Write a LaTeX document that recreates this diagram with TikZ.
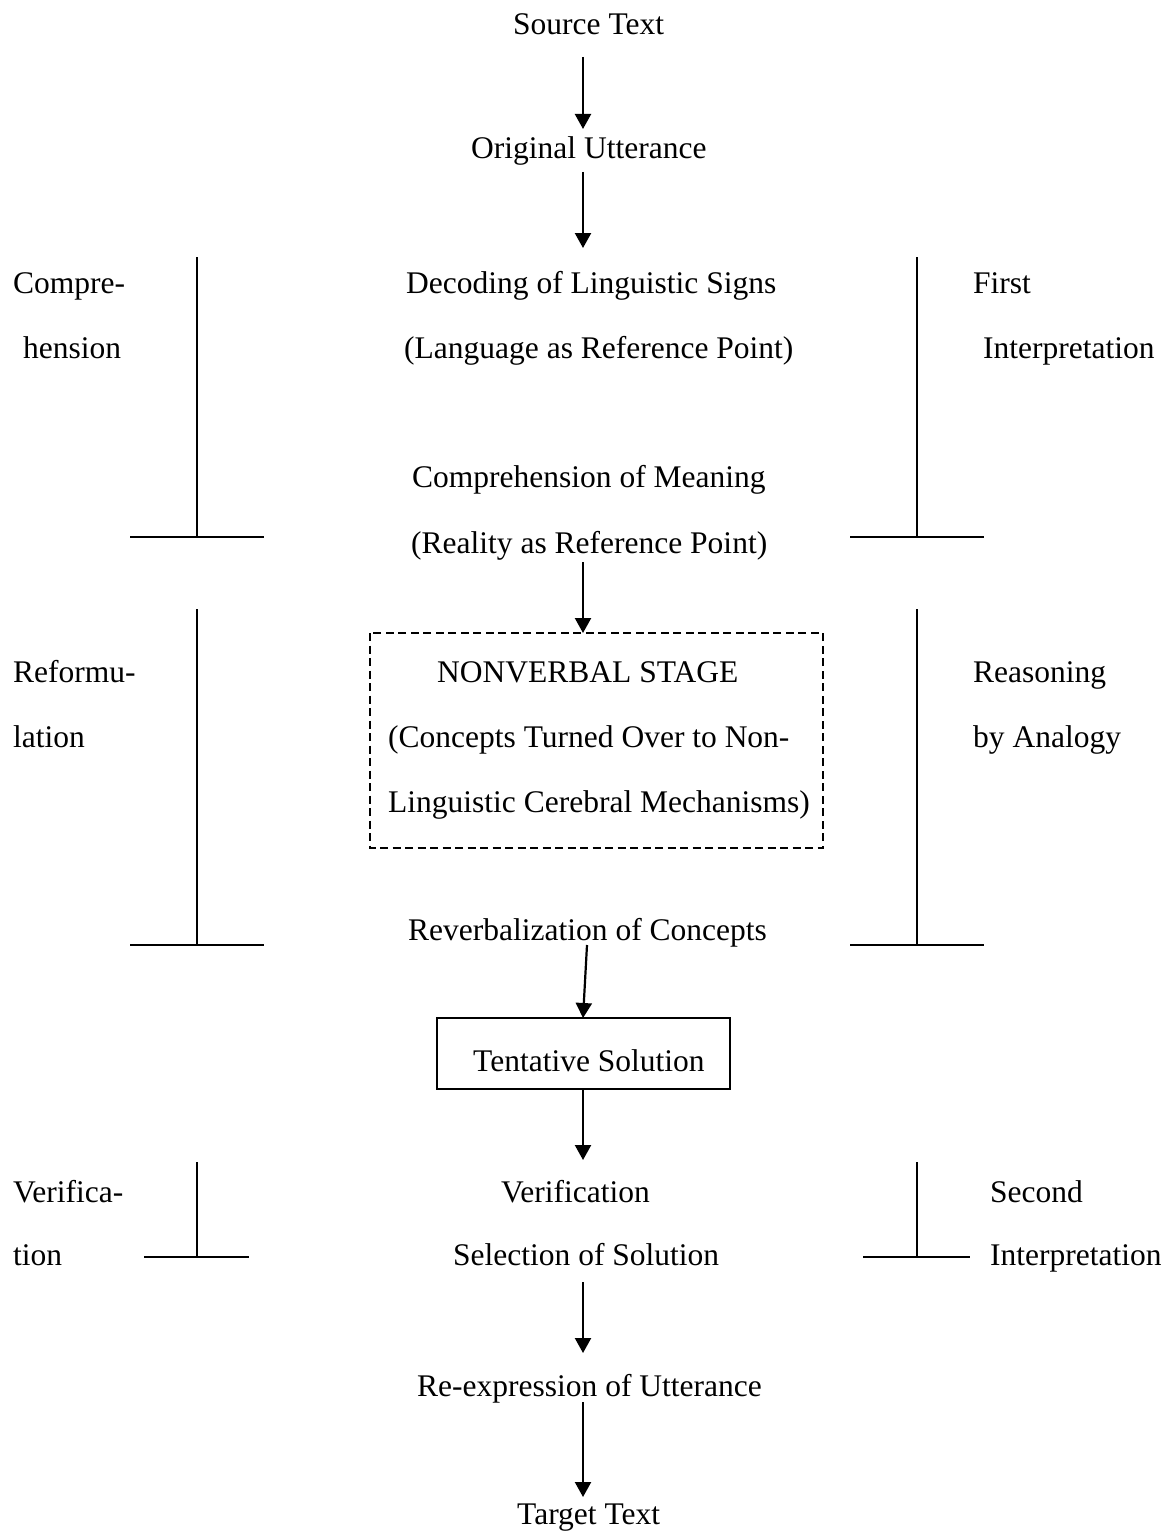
\documentclass[tikz,border=0pt]{standalone}
\usepackage{fontspec}
\setmainfont{Liberation Serif}
\usetikzlibrary{arrows.meta}
\begin{document}
\begin{tikzpicture}[x=1pt,y=-1pt,
  lbl/.style={inner sep=0pt,anchor=base west,font=\fontsize{31.5}{36}\selectfont},
  arr/.style={line width=2.2pt,-{Triangle[width=16pt,length=15pt]}},
  tbar/.style={line width=2.2pt},
  dbox/.style={line width=1.8pt,dash pattern=on 8pt off 4.5pt},
  sbox/.style={line width=2.2pt}]
\useasboundingbox[fill=white] (0,0) rectangle (1173,1533);
% centre column
\node[lbl] (src)  at (513,35)  {Source Text};
\node[lbl] (orig) at (471,159) {Original Utterance};
\node[lbl] (dec)  at (406,293) {Decoding of Linguistic Signs};
\node[lbl] (lang) at (404,358) {(Language as Reference Point)};
\node[lbl] (comp) at (412,487) {Comprehension of Meaning};
\node[lbl] (real) at (411,553) {(Reality as Reference Point)};
\node[lbl] (nv)   at (437,682) {NONVERBAL STAGE};
\node[lbl] (nv2)  at (388,747) {(Concepts Turned Over to Non-};
\node[lbl] (nv3)  at (388,812) {Linguistic Cerebral Mechanisms)};
\node[lbl] (rev)  at (408,940) {Reverbalization of Concepts};
\node[lbl] (tent) at (473,1071) {Tentative Solution};
\node[lbl] (ver)  at (501,1202) {Verification};
\node[lbl] (sel)  at (453,1265) {Selection of Solution};
\node[lbl] (reex) at (417,1396) {Re-expression of Utterance};
\node[lbl] (tgt)  at (517,1524) {Target Text};
% side labels
\node[lbl] (l1a) at (13,293)  {Compre-};
\node[lbl] (l1b) at (23,358)  {hension};
\node[lbl] (r1a) at (973,293) {First};
\node[lbl] (r1b) at (983,358) {Interpretation};
\node[lbl] (l2a) at (13,682)  {Reformu-};
\node[lbl] (l2b) at (13,747)  {lation};
\node[lbl] (r2a) at (973,682) {Reasoning};
\node[lbl] (r2b) at (973,747) {by Analogy};
\node[lbl] (l3a) at (13,1202) {Verifica-};
\node[lbl] (l3b) at (13,1265) {tion};
\node[lbl] (r3a) at (990,1202) {Second};
\node[lbl] (r3b) at (990,1265) {Interpretation};
% boxes
\draw[dbox] (370,633) rectangle (823,848);
\draw[sbox] (437,1018) rectangle (730,1089);
% T bars
\draw[tbar] (197,257) -- (197,537) (130,537) -- (264,537);
\draw[tbar] (917,257) -- (917,537) (850,537) -- (984,537);
\draw[tbar] (197,609) -- (197,945) (130,945) -- (264,945);
\draw[tbar] (917,609) -- (917,945) (850,945) -- (984,945);
\draw[tbar] (197,1162) -- (197,1257) (144,1257) -- (249,1257);
\draw[tbar] (917,1162) -- (917,1257) (863,1257) -- (970,1257);
% arrow end points
\coordinate (a1s) at (583,57);   \coordinate (a1e) at (583,129);
\coordinate (a2s) at (583,172);  \coordinate (a2e) at (583,248);
\coordinate (a3s) at (583,562);  \coordinate (a3e) at (583,633);
\coordinate (a4s) at (587,945);  \coordinate (a4e) at (583,1018);
\coordinate (a5s) at (583,1089); \coordinate (a5e) at (583,1160);
\coordinate (a6s) at (583,1282); \coordinate (a6e) at (583,1353);
\coordinate (a7s) at (583,1402); \coordinate (a7e) at (583,1497);
\draw[arr] (a1s) -- (a1e);
\draw[arr] (a2s) -- (a2e);
\draw[arr] (a3s) -- (a3e);
\draw[arr] (a4s) -- (a4e);
\draw[arr] (a5s) -- (a5e);
\draw[arr] (a6s) -- (a6e);
\draw[arr] (a7s) -- (a7e);
\end{tikzpicture}
\end{document}
